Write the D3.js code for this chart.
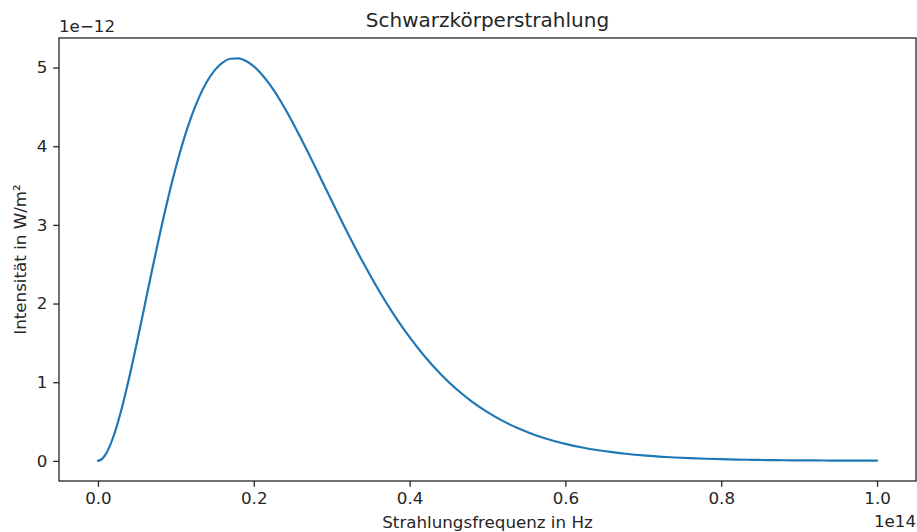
<!DOCTYPE html>
<html>
<head>
<meta charset="utf-8">
<script src="https://cdn.jsdelivr.net/npm/d3@7"></script>
<style>
  html, body { margin: 0; padding: 0; background: #fff; }
  svg { display: block; font-family: "DejaVu Sans", sans-serif; }
</style>
</head>
<body>
<svg id="chart" width="917" height="532"></svg>
<script>
// Frequency in units of 1e14 Hz
const frequency = [0.000,0.005,0.01,0.02,0.03,0.04,0.05,0.06,0.07,0.08,0.09,0.10,0.11,0.12,0.13,0.14,0.15,0.16,0.17,0.18,0.19,0.20,0.22,0.24,0.26,0.28,0.30,0.32,0.34,0.36,0.38,0.40,0.42,0.44,0.46,0.48,0.50,0.52,0.54,0.56,0.58,0.60,0.62,0.64,0.66,0.68,0.70,0.72,0.74,0.76,0.78,0.80,0.82,0.84,0.86,0.88,0.90,0.92,0.94,0.96,0.98,1.00];
// Intensity in units of 1e-12 W/m²
const intensity = [0.000,0.022,0.085,0.313,0.647,1.053,1.505,1.977,2.451,2.909,3.339,3.732,4.081,4.380,4.628,4.823,4.968,5.063,5.112,5.117,5.084,5.016,4.792,4.480,4.111,3.713,3.306,2.906,2.527,2.176,1.857,1.572,1.320,1.102,0.914,0.754,0.619,0.505,0.411,0.333,0.269,0.216,0.173,0.138,0.110,0.087,0.069,0.055,0.043,0.034,0.027,0.021,0.016,0.013,0.010,0.008,0.006,0.005,0.004,0.003,0.002,0.002];
const xTicks = [0.0, 0.2, 0.4, 0.6, 0.8, 1.0];
const yTicks = [0, 1, 2, 3, 4, 5];
const titleText = "Schwarzkörperstrahlung";
const xLabel = "Strahlungsfrequenz in Hz";
const yLabel = "Intensität in W/m²";
const xOffsetText = "1e14";
const yOffsetText = "1e\u221212";

const svg = d3.select("#chart");
const L = 59, R = 916, T = 38, B = 481;
const textColor = "#262626";
const fs = "16.7px";

const x = d3.scaleLinear().domain([-0.05, 1.05]).range([L, R]);
const y = d3.scaleLinear().domain([-0.256, 5.376]).range([B, T]);

// Line
const data = frequency.map((f, i) => [f, intensity[i]]);
svg.append("path")
  .datum(data)
  .attr("fill", "none")
  .attr("stroke", "#1f77b4")
  .attr("stroke-width", 2.2)
  .attr("stroke-linejoin", "round")
  .attr("stroke-linecap", "round")
  .attr("d", d3.line().x(d => x(d[0])).y(d => y(d[1])).curve(d3.curveMonotoneX));

// Axes
const xAxis = svg.append("g")
  .attr("transform", `translate(0,${B})`)
  .call(d3.axisBottom(x).tickValues(xTicks).tickFormat(d3.format(".1f")).tickSize(5.8).tickPadding(5.8).tickSizeOuter(0));
const yAxis = svg.append("g")
  .attr("transform", `translate(${L},0)`)
  .call(d3.axisLeft(y).tickValues(yTicks).tickFormat(d3.format("d")).tickSize(5.8).tickPadding(5.8).tickSizeOuter(0));
[xAxis, yAxis].forEach(g => {
  g.select(".domain").remove();
  g.selectAll(".tick line").attr("stroke", textColor).attr("stroke-width", 1.3);
  g.selectAll(".tick text").attr("fill", textColor).attr("font-size", fs).attr("font-family", "DejaVu Sans, sans-serif");
});

// Frame
svg.append("rect")
  .attr("x", L).attr("y", T).attr("width", R - L).attr("height", B - T)
  .attr("fill", "none").attr("stroke", textColor).attr("stroke-width", 1.3);

// Title
svg.append("text").attr("x", (L + R) / 2).attr("y", 27)
  .attr("text-anchor", "middle").attr("font-size", "20px").attr("fill", textColor)
  .text(titleText);

// Axis labels
svg.append("text").attr("x", (L + R) / 2).attr("y", 528)
  .attr("text-anchor", "middle").attr("font-size", fs).attr("fill", textColor)
  .text(xLabel);
svg.append("text")
  .attr("transform", `translate(26,${(T + B) / 2}) rotate(-90)`)
  .attr("text-anchor", "middle").attr("font-size", fs).attr("fill", textColor)
  .text(yLabel);

// Offset texts
svg.append("text").attr("x", L).attr("y", 32)
  .attr("text-anchor", "start").attr("font-size", fs).attr("fill", textColor)
  .text(yOffsetText);
svg.append("text").attr("x", 916).attr("y", 527)
  .attr("text-anchor", "end").attr("font-size", fs).attr("fill", textColor)
  .text(xOffsetText);
</script>
</body>
</html>
